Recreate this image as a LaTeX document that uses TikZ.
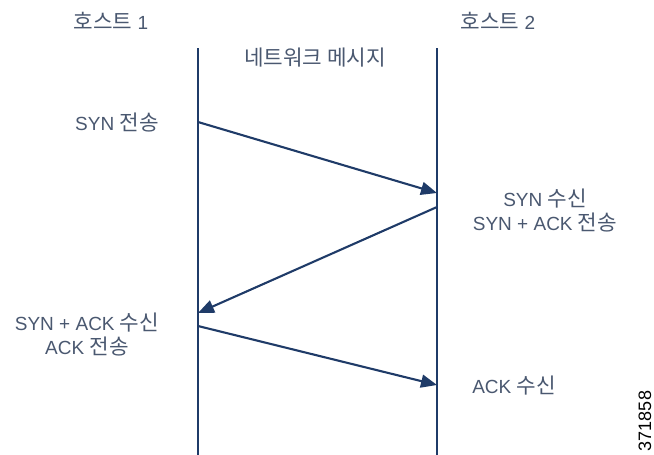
\documentclass[tikz,border=0pt]{standalone}
\usepackage{fontspec}
\setmainfont{Liberation Sans}
\newfontfamily\kr[Scale=1.12]{Noto Sans CJK KR}
\usetikzlibrary{arrows.meta}
\definecolor{linec}{HTML}{1F3B68}
\definecolor{txtc}{HTML}{4A5870}
\begin{document}
\begin{tikzpicture}[x=1pt,y=-1pt,
  lbl/.style={text=txtc,font=\fontsize{19}{24}\selectfont,align=center,inner sep=0pt},
  life/.style={draw=linec,line width=2.5pt},
  msg/.style={draw=linec,line width=2.1pt,-{Triangle[length=16pt,width=13pt]}}]
\useasboundingbox (0,0) rectangle (654,455);
% lifelines
\coordinate (l1t) at (198,48);
\coordinate (l1b) at (198,455);
\coordinate (l2t) at (437,48);
\coordinate (l2b) at (437,455);
\draw[life] (l1t) -- (l1b);
\draw[life] (l2t) -- (l2b);
% message end points
\coordinate (a1s) at (198,122);
\coordinate (a1e) at (437,193);
\coordinate (a2s) at (437,207);
\coordinate (a2e) at (198,313);
\coordinate (a3s) at (198,326);
\coordinate (a3e) at (437,385);
\draw[msg] (a1s) -- (a1e);
\draw[msg] (a2s) -- (a2e);
\draw[msg] (a3s) -- (a3e);
% labels
\node[lbl] (h1) at (111,21) {{\kr 호스트} 1};
\node[lbl] (h2) at (498,21) {{\kr 호스트} 2};
\node[lbl] (net) at (315,58) {\kr 네트워크 메시지};
\node[lbl] (t1) at (117,123) {SYN {\kr 전송}};
\node[lbl] (t2) at (545,211) {SYN {\kr 수신}\\SYN + ACK {\kr 전송}};
\node[lbl] (t3) at (87,335) {SYN + ACK {\kr 수신}\\ACK {\kr 전송}};
\node[lbl] (t4) at (514,386) {ACK {\kr 수신}};
\node[rotate=90,font=\fontsize{18}{20}\selectfont,text=black,inner sep=0pt] (id) at (645,421) {371858};
\end{tikzpicture}
\end{document}
